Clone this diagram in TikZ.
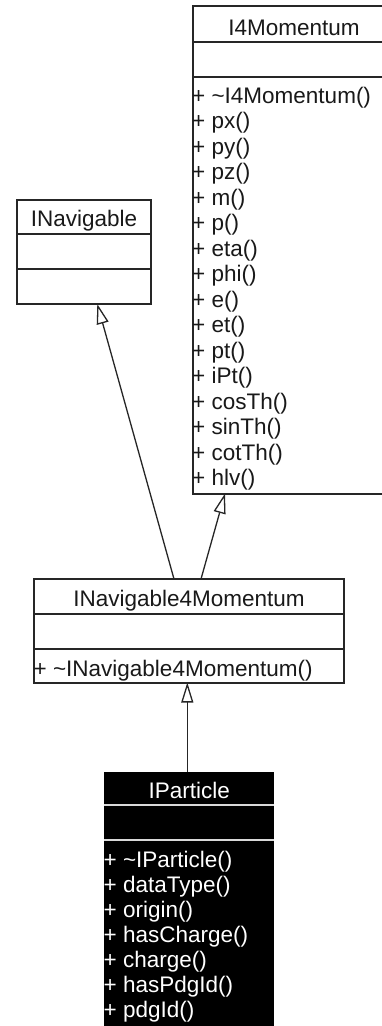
\documentclass[tikz,border=0pt]{standalone}
\usepackage{fontspec}
\setmainfont{Liberation Sans}
\usetikzlibrary{arrows.meta}

\begin{document}
\begin{tikzpicture}[x=1pt, y=-1pt,
  classbox/.style={draw=black!85, line width=2pt, fill=white, anchor=north west,
                   inner sep=0pt, outer sep=0pt},
  darkbox/.style={fill=black, anchor=north west, inner sep=0pt, outer sep=0pt},
  sep/.style={draw=black!85, line width=1.7pt},
  darksep/.style={draw=white!85!black, line width=1.4pt},
  umlfont/.style={font=\fontsize{22.5}{25}\selectfont},
  title/.style={umlfont, anchor=base, inner sep=0pt, text=black!90},
  member/.style={umlfont, anchor=base west, inner sep=0pt, text=black!90},
  inherit/.style={draw=black!85, line width=1.3pt,
                  -{Triangle[open, length=20pt, width=12pt, line width=1.3pt]}},
]
\useasboundingbox (0,0) rectangle (382,1026);
\fill[white] (0,0) rectangle (382,1026);
\clip (0,0) rectangle (382,1026);

% ---- I4Momentum ----
\node[classbox, minimum width=202pt, minimum height=487.5pt] (i4m) at (193,6) {};
\draw[sep] (193,41.7) -- (395,41.7);
\draw[sep] (193,76.7) -- (395,76.7);
\node[title] (i4m-name) at (294,35) {I4Momentum};
\foreach \m [count=\i from 0] in {\textasciitilde I4Momentum(), px(), py(), pz(), m(), p(),
    eta(), phi(), e(), et(), pt(), iPt(), cosTh(), sinTh(), cotTh(), hlv()}
  \node[member] (i4m-m\i) at (192, 103+\i*25.5) {+ \m};

% ---- INavigable ----
\node[classbox, minimum width=134pt, minimum height=104pt] (nav) at (17,200) {};
\draw[sep] (17,234) -- (151,234);
\draw[sep] (17,269) -- (151,269);
\node[title] (nav-name) at (84,226.5) {INavigable};

% ---- INavigable4Momentum ----
\node[classbox, minimum width=310pt, minimum height=103.5pt] (n4m) at (34.3,579) {};
\draw[sep] (34.3,614.3) -- (344.3,614.3);
\draw[sep] (34.3,649) -- (344.3,649);
\node[title] (n4m-name) at (189,606) {INavigable4Momentum};
\node[member] (n4m-m0) at (33.5,676) {+ \textasciitilde INavigable4Momentum()};

% ---- IParticle ----
\node[darkbox, minimum width=170pt, minimum height=270pt] (ipa) at (104.3,771.7) {};
\draw[darksep] (104.3,805) -- (274.3,805);
\draw[darksep] (104.3,840) -- (274.3,840);
\node[title, text=white] (ipa-name) at (189.3,798) {IParticle};
\foreach \m [count=\i from 0] in {\textasciitilde IParticle(), dataType(), origin(),
    hasCharge(), charge(), hasPdgId(), pdgId()}
  \node[member, text=white] (ipa-m\i) at (103.5, 867+\i*25) {+ \m};

% ---- generalisation connectors ----
\coordinate (n4m-left)  at (174,579);
\coordinate (n4m-right) at (201,579);
\coordinate (n4m-base)  at (187.3,682.5);
\coordinate (nav-base)  at (97.3,304);
\coordinate (i4m-base)  at (225,493.5);
\coordinate (ipa-top)   at (187.3,771.7);

\draw[inherit] (n4m-left)  -- (nav-base);
\draw[inherit] (n4m-right) -- (i4m-base);
\draw[inherit] (ipa-top)   -- (n4m-base);
\end{tikzpicture}
\end{document}
